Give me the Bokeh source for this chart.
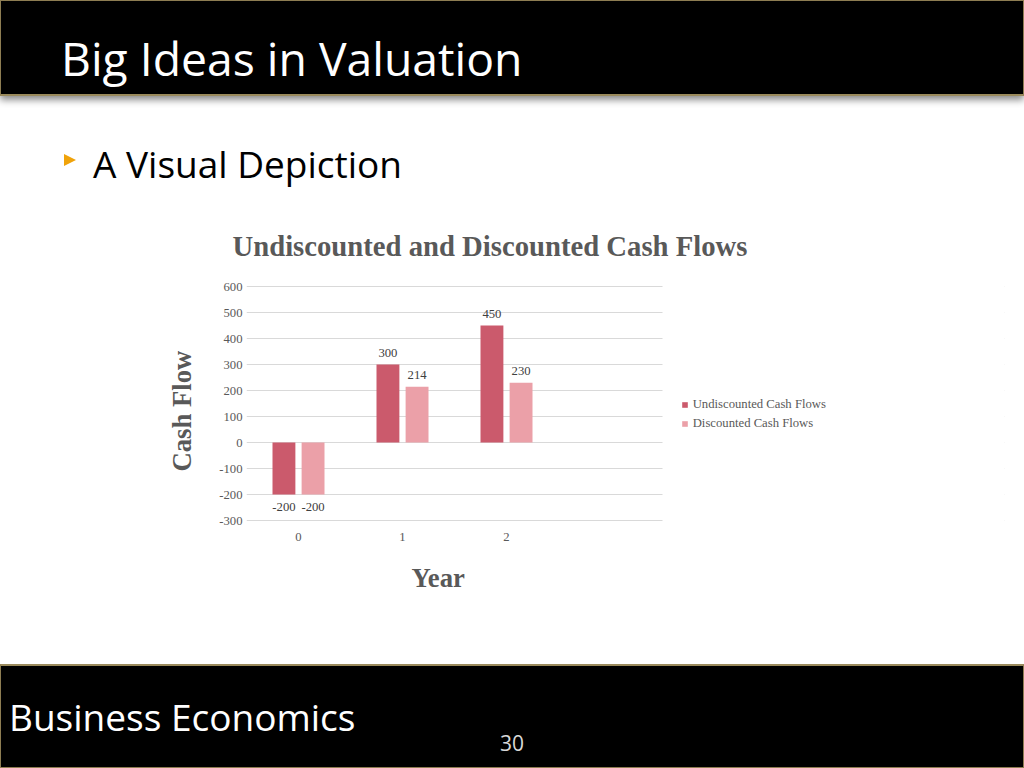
from bokeh.plotting import figure
from bokeh.models import (Div, FixedTicker, Range1d, Legend, LegendItem, ColumnDataSource,
                          BoxAnnotation, Title)
from bokeh.layouts import column
from bokeh.embed import file_html
from bokeh.resources import INLINE
from bokeh.core.properties import value

# ---- data / texts ----
slide_title = "Big Ideas in Valuation"
bullet_text = "A Visual Depiction"
footer_text = "Business Economics"
page_number = "30"
chart_title = "Undiscounted and Discounted Cash Flows"
x_label = "Year"
y_label = "Cash Flow"

years = [0, 1, 2]
year_slots = 4  # the category axis has one extra, empty slot
undiscounted = [-200, 300, 450]
discounted = [-200, 214, 230]
series_names = ["Undiscounted Cash Flows", "Discounted Cash Flows"]
y_ticks = [-300, -200, -100, 0, 100, 200, 300, 400, 500, 600]

# ---- styles ----
C_UND = "#CB5A6C"
C_DIS = "#EBA0A8"
GRAY = "#595959"
SERIF = "Liberation Serif"

# ---- header / bullet / footer ----
header = Div(width=1024, height=96, margin=0, text=f"""
<div style="position:relative;width:1024px;height:96px;box-sizing:border-box;background:#000;
border:1px solid #8d7d52;border-bottom:2px solid #9a8a5c;box-shadow:0 4px 7px rgba(0,0,0,0.45);">
<div style="position:absolute;left:60px;top:35px;font-family:'Open Sans';font-size:46.3px;line-height:46px;
color:#fff;white-space:nowrap;">{slide_title}</div></div>""")

bullet = Div(width=1024, height=104, margin=0, text=f"""
<div style="position:relative;width:1024px;height:104px;">
<div style="position:absolute;left:64px;top:58px;width:0;height:0;border-top:6.5px solid transparent;
border-bottom:6.5px solid transparent;border-left:12px solid #F0A30A;"></div>
<div style="position:absolute;left:93px;top:49px;font-family:'Open Sans';font-size:37px;line-height:37px;
color:#000;white-space:nowrap;">{bullet_text}</div></div>""")

footer = Div(width=1024, height=104, margin=0, text=f"""
<div style="position:relative;width:1024px;height:104px;box-sizing:border-box;background:#000;
border:1px solid #8d7d52;border-top:2px solid #9a8a5c;">
<div style="position:absolute;left:8px;top:32px;font-family:'Open Sans';font-size:37px;line-height:37px;
color:#fff;white-space:nowrap;">{footer_text}</div>
<div style="position:absolute;left:461px;top:67px;width:100px;text-align:center;font-family:'Open Sans';
font-size:21px;line-height:21px;color:#d8d8d8;">{page_number}</div></div>""")

# ---- chart ----
FIG_W, FIG_H = 1024, 464
BL, BR, BT, BB = 246, 20, 84, 142          # borders around the frame
PLOT_W, PLOT_H = 416, 234                  # size of the gridded plot area
PAD = 2                                    # px of frame kept beyond the outer gridlines
frame_w = FIG_W - BL - BR
x_end = -0.5 + year_slots * frame_w / PLOT_W   # frame extends right to host the legend
y_pad = PAD * (max(y_ticks) - min(y_ticks)) / PLOT_H

p = figure(width=FIG_W, height=FIG_H, output_backend="svg", toolbar_location=None,
           x_range=Range1d(-0.5, x_end),
           y_range=Range1d(min(y_ticks) - y_pad, max(y_ticks) + y_pad),
           min_border_left=BL, min_border_right=BR, min_border_top=BT, min_border_bottom=BB)
p.outline_line_color = None
p.background_fill_color = "white"
p.border_fill_color = "white"

OFF = 0.14
W = 0.22


def label_offsets(vals):
    return [-12 if v >= 0 else 12 for v in vals]


src_u = ColumnDataSource(dict(x=[y - OFF for y in years], top=undiscounted,
                              label=[str(v) for v in undiscounted], off=label_offsets(undiscounted)))
src_d = ColumnDataSource(dict(x=[y + OFF for y in years], top=discounted,
                              label=[str(v) for v in discounted], off=label_offsets(discounted)))

# grid only over the category slots: mask the part of the frame that holds the legend
p.add_layout(BoxAnnotation(left=year_slots - 0.5, fill_color="white", fill_alpha=1,
                           line_color=None, level="underlay"))

r_u = p.vbar(x="x", top="top", bottom=0, width=W, source=src_u, fill_color=C_UND, line_color=None)
r_d = p.vbar(x="x", top="top", bottom=0, width=W, source=src_d, fill_color=C_DIS, line_color=None)

for src in (src_u, src_d):
    p.text(x="x", y="top", text="label", source=src, y_offset="off",
           text_align="center", text_baseline="middle",
           text_font=value(SERIF), text_font_size="12.7px", text_color="#404040")

# axes
p.xaxis.ticker = FixedTicker(ticks=years)
p.yaxis.ticker = FixedTicker(ticks=y_ticks)
p.yaxis.major_label_overrides = {v: str(v) for v in y_ticks}
p.xaxis.major_label_overrides = {v: str(v) for v in years}
for ax in (p.xaxis, p.yaxis):
    ax.axis_line_color = None
    ax.major_tick_line_color = None
    ax.minor_tick_line_color = None
    ax.major_tick_out = 0
    ax.major_tick_in = 0
    ax.major_label_text_font = SERIF
    ax.major_label_text_font_size = "12.7px"
    ax.major_label_text_color = GRAY
p.xaxis.major_label_standoff = 10
p.yaxis.major_label_standoff = 4

p.xgrid.visible = False
p.ygrid.ticker = FixedTicker(ticks=y_ticks)
p.ygrid.grid_line_color = "#D9D9D9"
p.ygrid.grid_line_width = 1

# axis titles (placed as side titles so they can sit where the original chart puts them)
AX_TITLE = dict(text_font=SERIF, text_font_size="26.7px", text_font_style="bold", text_color=GRAY)
p.add_layout(Title(text=x_label, align="left", offset=165, standoff=35, **AX_TITLE), "below")
p.add_layout(Title(text=y_label, align="left", offset=51, standoff=40, **AX_TITLE), "left")

# chart title
p.title.text = chart_title
p.title.align = "left"
p.title.offset = -14
p.title.text_font = SERIF
p.title.text_font_size = "28.7px"
p.title.text_font_style = "bold"
p.title.text_color = GRAY
p.title.standoff = 45

legend = Legend(items=[LegendItem(label=series_names[0], renderers=[r_u]),
                       LegendItem(label=series_names[1], renderers=[r_d])],
                location=(434.7, 88.8), orientation="vertical",
                glyph_width=7, glyph_height=7, label_standoff=5, label_height=19, spacing=0,
                padding=0, margin=0, border_line_color=None, background_fill_alpha=0,
                label_text_font=SERIF, label_text_font_size="12.7px", label_text_color=GRAY)
p.add_layout(legend)

layout = column(header, bullet, p, footer, spacing=0)

open("out.html", "w").write(file_html(layout, INLINE))
